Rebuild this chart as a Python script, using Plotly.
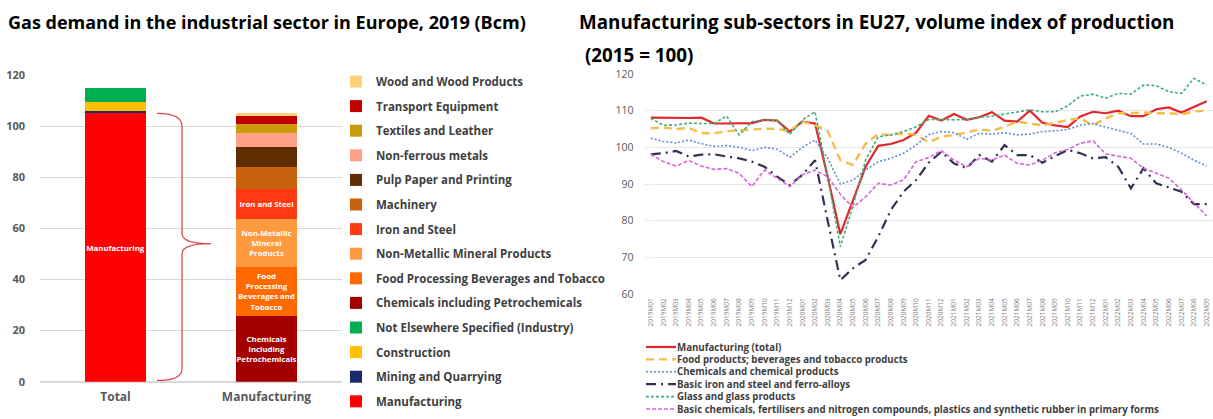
import plotly.graph_objects as go

W, H = 1213, 419
def px(x): return x / W
def py(y): return 1 - y / H

# ---------------- Left chart data (Bcm, 2019) ----------------
total_names = ["Manufacturing", "Mining and Quarrying", "Construction", "Not Elsewhere Specified (Industry)"]
total_values = [105.0, 1.0, 3.6, 5.2]
total_colors = ["#FF0000", "#1B2A6B", "#FFC000", "#00B050"]
total_labels = ["Manufacturing", "", "", ""]

manuf_names = ["Chemicals including Petrochemicals", "Food Processing Beverages and Tobacco",
               "Non-Metallic Mineral Products", "Iron and Steel", "Machinery", "Pulp Paper and Printing",
               "Non-ferrous metals", "Textiles and Leather", "Transport Equipment", "Wood and Wood Products"]
manuf_values = [25.7, 19.3, 18.5, 11.8, 8.8, 7.9, 5.2, 3.6, 3.5, 0.7]
manuf_colors = ["#A50000", "#FF6A00", "#FF9A40", "#FF3A12", "#C8620E", "#5E2E00",
                "#FFA088", "#C99A0C", "#C00000", "#FFD27A"]
manuf_labels = ["Chemicals<br>including<br>Petrochemicals", "Food<br>Processing<br>Beverages and<br>Tobacco",
                "Non-Metallic<br>Mineral<br>Products", "Iron and Steel", "", "", "", "", "", ""]

# ---------------- Right chart data (index 2015=100) ----------------
months = [f"{y}M{m:02d}" for y in (2019, 2020, 2021, 2022) for m in range(1, 13)][:45]

manufacturing = [108.1, 108.0, 108.0, 108.0, 108.1, 106.5, 106.5, 106.5, 106.6, 107.5, 107.3, 104.3,
                 107.0, 106.5, 92.0, 76.3, 85.8, 94.7, 100.4, 100.9, 102.0, 104.0, 108.6, 107.3,
                 109.1, 107.5, 108.2, 109.6, 107.3, 107.0, 110.0, 106.7, 106.0, 105.5, 108.4, 109.7,
                 109.3, 110.0, 108.5, 108.5, 110.4, 110.9, 109.5, 111.1, 112.6]
food = [105.2, 105.4, 105.0, 105.3, 103.9, 103.8, 104.4, 104.6, 105.0, 105.1, 105.0, 104.5,
        107.0, 106.0, 104.5, 96.5, 95.2, 101.0, 103.6, 103.4, 103.8, 103.4, 101.4, 102.9,
        103.4, 104.0, 104.9, 104.5, 105.6, 107.0, 106.5, 106.0, 106.7, 107.5, 107.9, 106.0,
        107.9, 109.3, 109.3, 109.5, 109.3, 109.3, 109.0, 109.8, 110.0]
chemicals = [102.5, 101.6, 101.2, 102.0, 101.0, 100.3, 100.5, 100.0, 99.1, 100.0, 99.5, 97.3,
             100.0, 102.0, 97.0, 90.0, 91.1, 93.8, 96.1, 97.0, 98.4, 100.6, 103.5, 104.3,
             104.0, 102.2, 103.8, 103.6, 104.0, 103.4, 103.6, 104.3, 104.5, 104.9, 106.0, 106.5,
             105.5, 104.7, 103.8, 100.9, 100.9, 100.0, 98.4, 96.5, 94.9]
iron_steel = [98.1, 98.4, 99.0, 97.5, 98.0, 98.1, 97.5, 97.0, 96.1, 94.7, 92.0, 89.7,
              92.5, 96.5, 80.0, 63.8, 67.0, 69.3, 75.6, 82.9, 87.9, 91.1, 95.8, 98.8,
              95.6, 94.3, 97.9, 96.1, 100.6, 97.9, 97.9, 95.8, 97.6, 99.3, 98.4, 97.0,
              97.3, 94.7, 88.8, 94.3, 90.2, 89.1, 87.9, 84.5, 84.5]
glass = [107.9, 106.0, 106.1, 106.6, 106.5, 106.5, 108.5, 103.4, 107.0, 107.5, 107.3, 103.5,
         107.5, 109.7, 92.0, 72.9, 84.0, 96.5, 102.9, 103.4, 104.3, 105.6, 107.6, 107.5,
         107.5, 107.6, 108.2, 108.5, 109.1, 109.7, 110.2, 109.7, 109.7, 111.3, 114.0, 114.5,
         113.4, 114.7, 114.5, 117.0, 116.8, 115.2, 114.7, 118.8, 117.0]
basic_chem = [98.1, 96.1, 94.9, 96.4, 94.9, 94.0, 94.2, 92.9, 89.3, 93.8, 91.6, 89.3,
              92.5, 93.8, 92.0, 87.2, 83.6, 86.5, 90.2, 89.7, 91.1, 96.1, 97.2, 99.1,
              96.5, 94.7, 97.0, 96.5, 97.9, 95.6, 95.2, 96.5, 98.5, 99.4, 101.1, 101.8,
              98.2, 97.6, 97.0, 94.3, 92.9, 91.6, 88.4, 84.7, 81.3]

series_names = ["Manufacturing (total)", "Food products; beverages and tobacco products",
                "Chemicals and chemical products", "Basic iron and steel and ferro-alloys",
                "Glass and glass products",
                "Basic chemicals, fertilisers and nitrogen compounds, plastics and synthetic rubber in primary forms"]
series_values = [manufacturing, food, chemicals, iron_steel, glass, basic_chem]
series_colors = ["#E3262B", "#F3BE48", "#5C8FD3", "#2E3253", "#45AE78", "#D566D5"]
series_dash = ["solid", "8px,5px", "2px,2px", "10px,5px,2px,5px", "3px,2px", "4px,2px"]
series_width = [2.2, 2.4, 1.6, 2.2, 1.6, 1.6]

fig = go.Figure()

bar_text_font = dict(color="white", size=7.8, family="Open Sans", weight="bold")
n_bar = len(total_names) + len(manuf_names)
rank = n_bar  # bottom of stack -> bottom of legend
for n, v, c, t in zip(total_names, total_values, total_colors, total_labels):
    fig.add_trace(go.Bar(x=["Total"], y=[v], name=n, marker=dict(color=c, line=dict(width=0)),
                         text=[t], textposition="inside", insidetextanchor="middle", textangle=0,
                         constraintext="none", textfont=bar_text_font,
                         width=0.4, legendgroup=n, legendrank=rank, xaxis="x", yaxis="y",
                         hoverinfo="name+y"))
    rank -= 1
for n, v, c, t in zip(manuf_names, manuf_values, manuf_colors, manuf_labels):
    fig.add_trace(go.Bar(x=["Manufacturing"], y=[v], name=n, marker=dict(color=c, line=dict(width=0)),
                         text=[t], textposition="inside", insidetextanchor="middle", textangle=0,
                         constraintext="none", textfont=bar_text_font,
                         width=0.4, legendgroup=n, legendrank=rank, xaxis="x", yaxis="y",
                         hoverinfo="name+y"))
    rank -= 1

xs = list(range(len(months)))
for n, v, c, d, w in zip(series_names, series_values, series_colors, series_dash, series_width):
    fig.add_trace(go.Scatter(x=xs, y=v, name=n, mode="lines", line=dict(color=c, dash=d, width=w),
                             showlegend=False, xaxis="x2", yaxis="y2"))

# curly brace spanning the manufacturing total (data-driven y, paper x)
top = sum(manuf_values)
mid = top / 2 + 1.5
bx0, bx1, bx2 = px(157), px(182), px(211)
brace = (f"M {bx0},{top} Q {bx1},{top} {bx1},{top-5} L {bx1},{mid+4} "
         f"Q {bx1},{mid} {bx2},{mid} Q {bx1},{mid} {bx1},{mid-4} L {bx1},{5} Q {bx1},{0.5} {bx0},{0.5}")
shapes = [dict(type="path", path=brace, xref="paper", yref="y",
               line=dict(color="#E0474C", width=1.3))]

# compact legend for the line chart
annotations = []
for i, (n, c, d, w) in enumerate(zip(series_names, series_colors, series_dash, series_width)):
    yy = py(347 + 12.4 * i)
    shapes.append(dict(type="line", xref="paper", yref="paper", x0=px(646), x1=px(676), y0=yy, y1=yy,
                       line=dict(color=c, dash=d, width=w)))
    annotations.append(dict(text=n, xref="paper", yref="paper", x=px(676), y=yy, xanchor="left",
                            yanchor="middle", showarrow=False, borderpad=0,
                            font=dict(family="Open Sans", size=9.7, color="#404040", weight="bold")))

annotations += [
    dict(text="Gas demand in the industrial sector in Europe, 2019 (Bcm)", xref="paper", yref="paper",
         x=px(6), y=py(22), xanchor="left", yanchor="middle", showarrow=False,
         font=dict(family="Open Sans", size=18, color="#000000", weight="bold")),
    dict(text="Manufacturing sub-sectors in EU27, volume index of production", xref="paper", yref="paper",
         x=px(577), y=py(22), xanchor="left", yanchor="middle", showarrow=False,
         font=dict(family="Open Sans", size=18.8, color="#000000", weight="bold")),
    dict(text="(2015 = 100)", xref="paper", yref="paper",
         x=px(583), y=py(55), xanchor="left", yanchor="middle", showarrow=False,
         font=dict(family="Open Sans", size=18.8, color="#000000", weight="bold")),
]

fig.update_layout(
    width=W, height=H, margin=dict(l=0, r=0, t=0, b=0, autoexpand=False),
    paper_bgcolor="white", plot_bgcolor="white",
    barmode="stack",
    font=dict(family="Open Sans", color="#595959"),
    xaxis=dict(domain=[px(40), px(342)], showgrid=False, showline=False, ticks="", automargin=False,
               tickfont=dict(size=12, color="#595959", weight="bold"), ticklabelstandoff=6,
               categoryorder="array", categoryarray=["Total", "Manufacturing"]),
    yaxis=dict(domain=[py(381.7), py(75)], range=[0, 120], dtick=20, showgrid=True, automargin=False,
               gridcolor="#D9D9D9", gridwidth=1, zeroline=True, zerolinecolor="#D9D9D9",
               showline=False, ticks="", tickfont=dict(size=11, color="#595959", weight="bold"),
               ticklabelstandoff=14),
    xaxis2=dict(domain=[px(644.5), 1.0], range=[-0.5, len(months) - 0.5], tickmode="array",
                tickvals=xs, ticktext=months, tickangle=-90, tickfont=dict(size=6.5, color="#7F7F7F"),
                showgrid=False, showline=False, ticks="", anchor="y2", ticklabelstandoff=2,
                automargin=False),
    yaxis2=dict(domain=[py(294), py(74)], range=[60, 120], dtick=10, showgrid=True, automargin=False,
                gridcolor="#E6E6E6", gridwidth=1, zeroline=False, showline=False, ticks="",
                tickfont=dict(size=10.5, color="#595959"), anchor="x2", ticklabelstandoff=10),
    legend=dict(x=px(336), y=py(67), xanchor="left", yanchor="top", traceorder="grouped",
                tracegroupgap=5.6, itemwidth=30, bgcolor="rgba(0,0,0,0)",
                font=dict(family="Open Sans", size=11.5, color="#404040", weight="bold")),
    shapes=shapes, annotations=annotations,
)

fig.write_html("out.html", config={"displayModeBar": False},
               post_script="document.body.style.margin='0';document.body.style.overflow='hidden';")
